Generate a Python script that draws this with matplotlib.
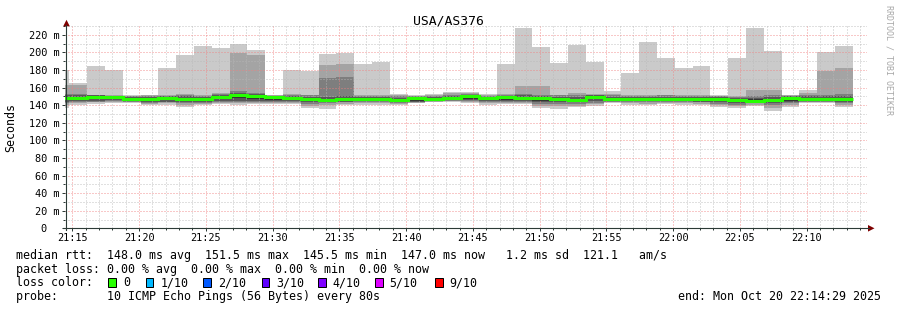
import numpy as np
import pandas as pd
import matplotlib
matplotlib.use("Agg")
import matplotlib.pyplot as plt
import matplotlib.dates as mdates
from matplotlib.patches import Polygon, Rectangle
from matplotlib.lines import Line2D
from matplotlib.ticker import MultipleLocator, FixedLocator, FixedFormatter

W, H = 897, 310
MONO = "DejaVu Sans Mono"

title = "USA/AS376"
bar_first_start = "2025-10-20 21:13:27"
step_seconds = 80
view_start = "2025-10-20 21:14:29"
view_end = "2025-10-20 22:14:29"

# sorted ping ranks per 80 s step (ms): lo1 = fastest ... hi1 = slowest
lo1 = [137, 140, 141.5, 142.5, 142, 139.7, 140.5, 137.8, 139.7, 141.2, 140.5, 140.8, 141.2, 141.2, 136.7,
       136, 139.7, 140.5, 140.5, 140.5, 142, 143, 143.5, 142.7, 140.5, 141.2, 141.2, 136.7, 136, 137.4,
       139, 142, 140.5, 140, 141, 140.5, 140, 138.2, 136.7, 139, 132.9, 138.2, 142, 142, 138.2]
lo2 = [140, 142, 143, 143.5, 143, 141, 142, 140, 141, 142.5, 142, 142, 142.5, 142.5, 139,
       140, 141.5, 142, 142, 141.5, 142.8, 143.8, 144.2, 143.5, 142, 142.5, 142.5, 139, 138.5, 139.5,
       141, 143, 142, 141.5, 142.5, 142, 141.5, 140, 138.5, 140.5, 137, 140, 143, 143, 140.5]
lo3 = [142, 144, 143.5, 144.5, 144, 142, 143, 142, 142.5, 143.5, 143.5, 143.5, 143.5, 143.5, 141,
       142, 143, 143, 143.5, 142.5, 143.5, 144.5, 145, 144.5, 143.5, 143.5, 143.5, 141, 141, 141.5,
       142.5, 144, 143.5, 143, 143.5, 143.5, 143, 141.5, 140.5, 142, 140, 142, 144, 144, 142.5]
lo4 = [144, 145, 144.5, 145.5, 144.5, 143, 144, 143.5, 144, 145, 145, 145, 144.5, 145, 143,
       143.5, 144, 144.5, 144.5, 143.5, 144, 145, 145.5, 145.5, 144.5, 144.5, 145, 143, 143, 143,
       144.5, 145, 144.5, 144.5, 144.5, 144.5, 144, 143, 142.5, 143, 142.5, 143.5, 145, 145, 144]
lo5 = [146, 146.5, 146.5, 147, 145.5, 145, 146, 145, 145.5, 147, 148, 147.5, 146, 146.5, 145,
       145, 145, 146, 146, 144.5, 144.5, 145.5, 146, 147, 145.5, 146, 146.5, 145, 144.5, 144.5,
       146.5, 146, 145.5, 146, 145.5, 145.5, 145, 145, 143.5, 144, 144, 145, 146, 146, 145.5]
median = [148.5, 148.5, 149.0, 148.8, 147.4, 147.0, 148.0, 147.0, 147.0, 149.5, 151.5, 150.8, 148.8, 148.5, 147.0,
          146.3, 147.3, 147.3, 147.0, 145.4, 147.6, 147.0, 147.7, 150.3, 147.7, 148.8, 148.5, 148.0, 146.6, 146.1,
          148.8, 147.0, 147.0, 147.0, 147.0, 147.0, 147.0, 147.0, 145.5, 145.0, 146.2, 148.0, 147.5, 147.0, 147.0]
hi5 = [149.5, 149.5, 150, 149.5, 148.5, 148.5, 149, 148.5, 148, 150.5, 152.5, 151.5, 149.5, 149.5, 148.5,
       147.5, 148.5, 148.5, 148.5, 146.5, 148.5, 148.5, 149, 151, 148.5, 149.5, 149.5, 149, 148, 147.5,
       150, 148, 148, 148, 148, 148, 148, 148, 147, 146.5, 147.5, 149, 148.5, 148.5, 148.5]
hi4 = [151, 151, 151, 150, 149.5, 149.5, 150, 150, 149, 151.5, 154, 152.5, 150, 150.5, 149.5,
       149, 150, 149.5, 149.5, 148, 149.5, 149.5, 150.5, 152, 149.5, 150.5, 151, 150.5, 149.5, 149.5,
       151, 149.5, 149, 149, 149.5, 149, 149.5, 149, 148, 148, 149, 150, 150, 150, 150]
hi3 = [153, 153, 151.5, 150.5, 150, 150.5, 150.5, 152, 150, 153, 156, 154, 150.5, 152, 151,
       170.8, 172.3, 150.5, 150.5, 150, 150, 150.5, 152, 153, 150.5, 151.5, 153, 152, 151, 152,
       152, 151, 150, 150, 151, 150, 150.5, 150, 149, 150, 151, 150.5, 152, 152, 152.5]
hi2 = [163, 162.5, 152, 151, 150.5, 151, 151, 153, 151, 154, 199.5, 197.3, 151, 153, 152,
       185.5, 186.7, 151, 152, 151.5, 150.5, 151.5, 153.5, 154, 151.5, 152.5, 161.7, 161.7, 152, 154,
       153, 153, 151, 151, 152, 151, 151.5, 150.5, 150, 157.1, 157.1, 151, 154, 178.3, 182.1]
hi1 = [180, 165, 184, 179.5, 151, 151.4, 182.5, 197.3, 207, 204.8, 209.4, 202.6, 151.2, 179.8, 178.3,
       198, 199.5, 186.7, 188.9, 152.6, 151.1, 152.6, 154.8, 154.8, 152.6, 186.7, 227.6, 206, 188.2, 208.6,
       188.9, 155.6, 176.8, 211.7, 193.5, 182.1, 184.4, 151.1, 193.5, 227.6, 201.8, 151.1, 157.1, 200.3, 207.1]

smoke_colors = ["#cacaca", "#a4a4a4", "#7e7e7e", "#585858", "#323232"]
median_color = "#26ff00"

y_ticks = [0, 20, 40, 60, 80, 100, 120, 140, 160, 180, 200, 220]
y_tick_labels = ["0  ", "20 m", "40 m", "60 m", "80 m", "100 m", "120 m", "140 m",
                 "160 m", "180 m", "200 m", "220 m"]
x_tick_labels = ["21:15", "21:20", "21:25", "21:30", "21:35", "21:40", "21:45",
                 "21:50", "21:55", "22:00", "22:05", "22:10"]
y_max = 231.6

legend_lines = [
    "median rtt:  148.0 ms avg  151.5 ms max  145.5 ms min  147.0 ms now   1.2 ms sd  121.1   am/s",
    "packet loss: 0.00 % avg  0.00 % max  0.00 % min  0.00 % now",
    "loss color:",
    "probe:       10 ICMP Echo Pings (56 Bytes) every 80s",
]
loss_labels = ["0", "1/10", "2/10", "3/10", "4/10", "5/10", "9/10"]
loss_colors = ["#26ff00", "#00b8ff", "#0059ff", "#5e00ff", "#7e00ff", "#dd00ff", "#ff0000"]
end_text = "end: Mon Oct 20 22:14:29 2025"
watermark = "RRDTOOL / TOBI OETIKER"

# ---------------------------------------------------------------
fig = plt.figure(figsize=(W / 100, H / 100), dpi=100)
fig.patch.set_facecolor("white")


def fx(px):
    return px / W


def fy(py):
    return 1 - py / H


ax_l, ax_r, ax_t, ax_b = 65.4, 866.6, 24.5, 228.3
ax = fig.add_axes([fx(ax_l), fy(ax_b), fx(ax_r - ax_l), (ax_b - ax_t) / H])
ax.set_facecolor("white")

edges = pd.date_range(bar_first_start, periods=len(median) + 1, freq=f"{step_seconds}s")
edges_num = mdates.date2num(edges.to_pydatetime())

bands = [(lo1, hi1), (lo2, hi2), (lo3, hi3), (lo4, hi4), (lo5, hi5)]
for (lo, hi), col in zip(bands, smoke_colors):
    ax.stairs(hi, edges_num, baseline=lo, fill=True, color=col, linewidth=0, zorder=1)
ax.stairs(median, edges_num, baseline=None, color=median_color, linewidth=2.2, zorder=3)

ax.set_xlim(mdates.date2num(pd.Timestamp(view_start)), mdates.date2num(pd.Timestamp(view_end)))
ax.set_ylim(0, y_max)

day = view_start.split(" ")[0]
x_ticks = [mdates.date2num(pd.Timestamp(f"{day} {t}")) for t in x_tick_labels]
ax.xaxis.set_major_locator(FixedLocator(x_ticks))
ax.xaxis.set_major_formatter(FixedFormatter(x_tick_labels))
ax.xaxis.set_minor_locator(mdates.MinuteLocator())
ax.yaxis.set_major_locator(FixedLocator(y_ticks))
ax.yaxis.set_major_formatter(FixedFormatter(y_tick_labels))
ax.yaxis.set_minor_locator(MultipleLocator(10))

ax.grid(which="major", color="#f08080", linestyle=(0, (1, 2)), linewidth=0.72, alpha=0.85)
ax.grid(which="minor", color="#b8b8b8", linestyle=(0, (1, 2)), linewidth=0.72, alpha=0.85)
ax.set_axisbelow(False)

for s in ax.spines.values():
    s.set_visible(False)

axis_col = "#2c3a36"
ax.tick_params(which="major", length=2.2, width=0.72, color=axis_col, direction="out")
ax.tick_params(which="minor", length=1.4, width=0.72, color=axis_col, direction="out")
ax.tick_params(axis="y", which="major", pad=1.9, labelsize=7.35)
ax.tick_params(axis="x", which="major", pad=1.2, labelsize=7.35)
for lab in ax.get_xticklabels() + ax.get_yticklabels():
    lab.set_fontfamily(MONO)
    lab.set_color("#000000")

# axes lines and arrows (figure level)
fig.add_artist(Line2D([fx(66), fx(66)], [fy(230), fy(25)], color=axis_col, linewidth=0.8))
fig.add_artist(Line2D([fx(62.5), fx(869)], [fy(228.3), fy(228.3)], color=axis_col, linewidth=0.8))
arrow_col = "#7f0000"
fig.add_artist(Polygon([[fx(66.5), fy(19.8)], [fx(63.2), fy(26.3)], [fx(69.8), fy(26.3)]],
                       closed=True, facecolor=arrow_col, edgecolor="none"))
fig.add_artist(Polygon([[fx(874.5), fy(228.3)], [fx(868), fy(225.0)], [fx(868), fy(231.6)]],
                       closed=True, facecolor=arrow_col, edgecolor="none"))

# title, unit, watermark
fig.text(fx(448.5), fy(21), title, family=MONO, fontsize=9.45, ha="center", va="center", color="#000000")
fig.text(fx(11), fy(127), "Seconds", family=MONO, fontsize=8.4, rotation=90,
         ha="center", va="center", color="#000000")
fig.text(fx(888.5), fy(60), watermark, family=MONO, fontsize=6.0, rotation=270,
         ha="center", va="center", color="#a8a8a8")

# legend
baselines = [259.3, 272.8, 286.3, 299.8]
for line, b in zip(legend_lines, baselines):
    fig.text(fx(15.5), fy(b), line, family=MONO, fontsize=8.4, ha="left", va="baseline", color="#000000")

box_x = [108.3, 145.7, 203.3, 261.7, 318.3, 375.0, 435.0]
label_x = [122.8, 160.2, 217.8, 276.2, 332.8, 389.5, 449.5]
for bx, lx, lab, col in zip(box_x, label_x, loss_labels, loss_colors):
    fig.add_artist(Rectangle((fx(bx), fy(286.6)), fx(7.6), 8.2 / H, facecolor=col,
                             edgecolor="#000000", linewidth=0.72))
    fig.text(fx(lx), fy(baselines[2]), lab, family=MONO, fontsize=8.4, ha="left",
             va="baseline", color="#000000")

fig.text(fx(881), fy(baselines[3]), end_text, family=MONO, fontsize=8.4, ha="right",
         va="baseline", color="#000000")

fig.savefig("out.png", dpi=100, facecolor="white")
